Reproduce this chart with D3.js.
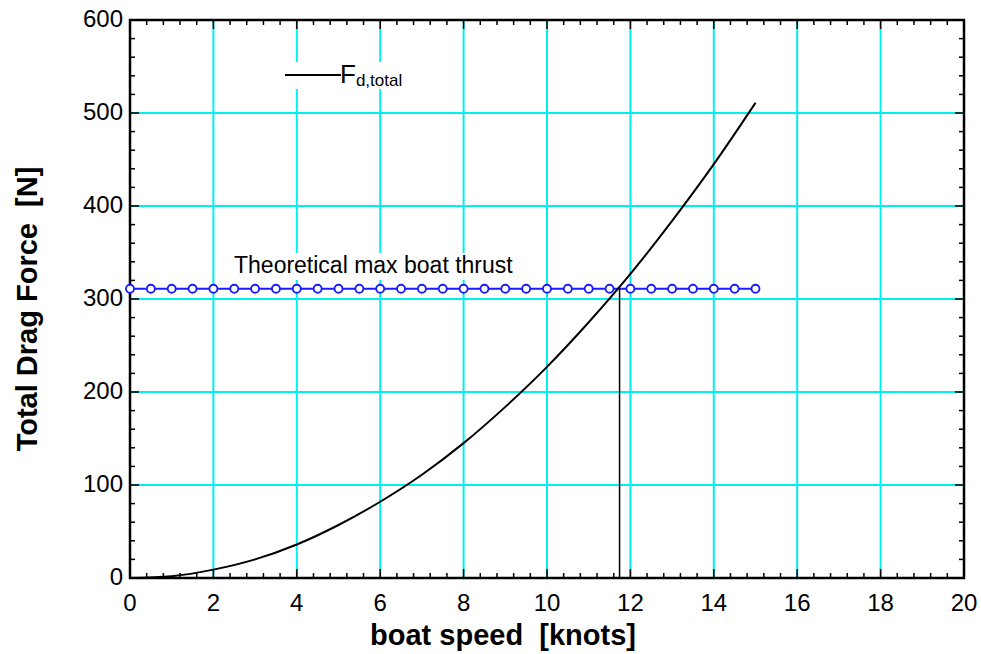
<!DOCTYPE html>
<html>
<head>
<meta charset="utf-8">
<script src="https://cdn.jsdelivr.net/npm/d3@7"></script>
<style>
  body { margin: 0; background: #fff; }
  text { font-family: "Liberation Sans", Arial, sans-serif; }
</style>
</head>
<body>
<div class="chart"></div>
<script>
// drag curve (knots -> N)
const speedKnots = [0, 1, 2, 3, 4, 5, 6, 7, 8, 9, 10, 11, 12, 13, 14, 15];
const dragForce = [0, 2, 9, 20, 36, 57, 82, 111, 145, 184, 227, 275, 327, 384, 445, 511];

// max thrust line, markers every half knot
const thrustSpeeds = [0, 0.5, 1, 1.5, 2, 2.5, 3, 3.5, 4, 4.5, 5, 5.5, 6, 6.5, 7, 7.5,
  8, 8.5, 9, 9.5, 10, 10.5, 11, 11.5, 12, 12.5, 13, 13.5, 14, 14.5, 15];
const thrustValue = 311;
const crossSpeed = 11.74;

const xTicks = [0, 2, 4, 6, 8, 10, 12, 14, 16, 18, 20];
const yTicks = [0, 100, 200, 300, 400, 500, 600];

var cfg = {
  width: 981,
  height: 654,
  margin: {top: 20, right: 17, bottom: 76, left: 130}
};

var scale = {
  x: d3.scaleLinear().domain([0, 20]).range([cfg.margin.left, cfg.width - cfg.margin.right]),
  y: d3.scaleLinear().domain([0, 600]).range([cfg.height - cfg.margin.bottom, cfg.margin.top])
};

var svg = d3.select(".chart").append("svg")
  .attr("width", cfg.width)
  .attr("height", cfg.height);

var x0 = scale.x(0), x1 = scale.x(20), y0 = scale.y(0), y1 = scale.y(600);

// grid
var grid = svg.append("g");
grid.selectAll(".gx")
  .data(xTicks.slice(1, -1))
  .enter().append("line")
  .attr("x1", d => scale.x(d)).attr("x2", d => scale.x(d))
  .attr("y1", y0).attr("y2", y1)
  .attr("stroke", "#00f0f0").attr("stroke-width", 2);
grid.selectAll(".gy")
  .data(yTicks.slice(1, -1))
  .enter().append("line")
  .attr("x1", x0).attr("x2", x1)
  .attr("y1", d => scale.y(d)).attr("y2", d => scale.y(d))
  .attr("stroke", "#00f0f0").attr("stroke-width", 2);

// white boxes behind the labels
svg.append("rect").attr("x", 280).attr("y", 62).attr("width", 130).attr("height", 27).attr("fill", "#fff");
svg.append("rect").attr("x", 230).attr("y", 253).attr("width", 288).attr("height", 27).attr("fill", "#fff");

// inward ticks on all four sides
var minorX = d3.range(0, 20.001, 0.4);
var minorY = d3.range(0, 600.001, 20);
var ticks = svg.append("g").attr("stroke", "#000").attr("stroke-width", 1.5);
[y0, y1].forEach(function(yy, i) {
  ticks.selectAll(null)
    .data(minorX)
    .enter().append("line")
    .attr("x1", d => scale.x(d)).attr("x2", d => scale.x(d))
    .attr("y1", yy)
    .attr("y2", d => yy + (i == 0 ? -1 : 1) * (Math.abs(d / 2 - Math.round(d / 2)) < 1e-6 ? 9 : 5));
});
[x0, x1].forEach(function(xx, i) {
  ticks.selectAll(null)
    .data(minorY)
    .enter().append("line")
    .attr("y1", d => scale.y(d)).attr("y2", d => scale.y(d))
    .attr("x1", xx)
    .attr("x2", d => xx + (i == 0 ? 1 : -1) * (d % 100 == 0 ? 9 : 5));
});

// frame
svg.append("rect")
  .attr("x", x0).attr("y", y1)
  .attr("width", x1 - x0).attr("height", y0 - y1)
  .attr("fill", "none").attr("stroke", "#000").attr("stroke-width", 2.5);

// tick labels
svg.append("g").selectAll("text")
  .data(xTicks)
  .enter().append("text")
  .attr("x", d => scale.x(d))
  .attr("y", y0 + 33)
  .attr("text-anchor", "middle")
  .attr("font-size", 24)
  .text(d => d);
svg.append("g").selectAll("text")
  .data(yTicks)
  .enter().append("text")
  .attr("x", x0 - 7)
  .attr("y", d => scale.y(d) + 7)
  .attr("text-anchor", "end")
  .attr("font-size", 24)
  .text(d => d);

// axis titles
svg.append("text")
  .attr("x", 503).attr("y", 645)
  .attr("text-anchor", "middle")
  .attr("font-size", 29).attr("font-weight", "bold")
  .attr("xml:space", "preserve")
  .text("boat speed  [knots]");
svg.append("text")
  .attr("transform", "translate(37, 309) rotate(-90)")
  .attr("text-anchor", "middle")
  .attr("font-size", 29).attr("font-weight", "bold")
  .attr("xml:space", "preserve")
  .text("Total Drag Force  [N]");

// thrust line with open circles
svg.append("line")
  .attr("x1", scale.x(0)).attr("x2", scale.x(15))
  .attr("y1", scale.y(thrustValue)).attr("y2", scale.y(thrustValue))
  .attr("stroke", "#1a1aff").attr("stroke-width", 2);
svg.append("g").selectAll("circle")
  .data(thrustSpeeds)
  .enter().append("circle")
  .attr("cx", d => scale.x(d))
  .attr("cy", scale.y(thrustValue))
  .attr("r", 4)
  .attr("fill", "#fff").attr("stroke", "#1a1aff").attr("stroke-width", 1.8);

// vertical drop at the crossing
svg.append("line")
  .attr("x1", scale.x(crossSpeed)).attr("x2", scale.x(crossSpeed))
  .attr("y1", scale.y(thrustValue)).attr("y2", y0)
  .attr("stroke", "#000").attr("stroke-width", 1.5);

// drag curve
var line = d3.line()
  .x((d, i) => scale.x(speedKnots[i]))
  .y(d => scale.y(d))
  .curve(d3.curveMonotoneX);
svg.append("path")
  .datum(dragForce)
  .attr("d", line)
  .attr("fill", "none").attr("stroke", "#000").attr("stroke-width", 2);

// legend
svg.append("line")
  .attr("x1", 285).attr("x2", 341).attr("y1", 75).attr("y2", 75)
  .attr("stroke", "#000").attr("stroke-width", 2);
var lg = svg.append("text").attr("x", 340).attr("y", 83).attr("font-size", 26);
lg.append("tspan").text("F");
lg.append("tspan").attr("font-size", 17).attr("dy", 3).text("d,total");

svg.append("text")
  .attr("x", 234).attr("y", 273)
  .attr("font-size", 23)
  .text("Theoretical max boat thrust");
</script>
</body>
</html>
